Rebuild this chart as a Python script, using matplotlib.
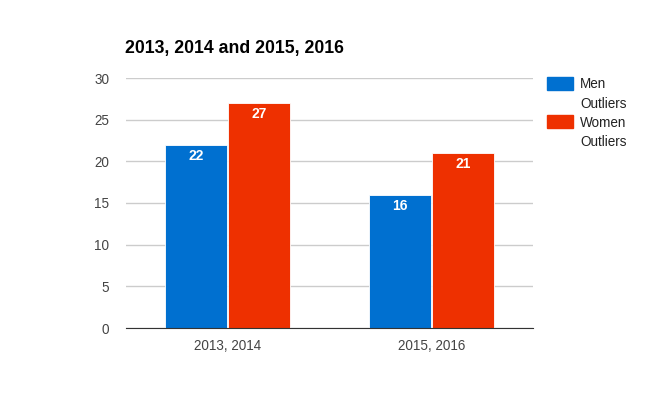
import numpy as np
import matplotlib.pyplot as plt
from matplotlib.patches import Rectangle

plt.rcParams['font.family'] = ['Liberation Sans', 'DejaVu Sans']

#DATA
categories = ['2013, 2014', '2015, 2016']
men = [22, 16]
women = [27, 21]
series_names = ['Men\nOutliers', 'Women\nOutliers']
colors = ['#0070d0', '#ee3000']

W, H = 657, 405
fig = plt.figure(figsize=(W / 100, H / 100), dpi=100)
ax = fig.add_axes([126 / W, 1 - 328 / H, 407 / W, 250 / H])

x = np.arange(len(categories))
w = 0.305
b1 = ax.bar(x - w / 2 - 0.002, men, w, color=colors[0], edgecolor='white', linewidth=0.6, zorder=3)
b2 = ax.bar(x + w / 2 + 0.002, women, w, color=colors[1], edgecolor='white', linewidth=0.6, zorder=3)

#DATA LABELS INSIDE THE BARS
for bars in (b1, b2):
    for r in bars:
        ax.annotate(str(int(r.get_height())), (r.get_x() + r.get_width() / 2, r.get_height()),
                    xytext=(0, -8), textcoords='offset points', ha='center', va='center',
                    color='white', fontsize=10, fontweight='bold', zorder=4)

ax.set_xlim(-0.5, 1.5)
ax.set_ylim(0, 30)
ax.set_yticks(range(0, 31, 5))
ax.set_xticks(x)
ax.set_xticklabels(categories)
ax.grid(axis='y', color='#cccccc', linewidth=1, zorder=0)
ax.tick_params(length=0, labelsize=9.75, colors='#444444')
ax.tick_params(axis='y', pad=12)
ax.tick_params(axis='x', pad=8)
for s in ['top', 'right', 'left']:
    ax.spines[s].set_visible(False)
ax.spines['bottom'].set_color('#333333')
ax.spines['bottom'].set_zorder(5)

fig.text(125 / W, 1 - 48 / H, '2013, 2014 and 2015, 2016', fontsize=12.7, fontweight='bold',
         va='center', ha='left', color='black')

#LEGEND DRAWN BY HAND (PATCH + TWO LINE LABEL)
for i, (name, c) in enumerate(zip(series_names, colors)):
    top = 77 + i * 38
    fig.patches.append(Rectangle((547 / W, 1 - (top + 13) / H), 26 / W, 13 / H,
                                 transform=fig.transFigure, color=c))
    fig.text(580 / W, 1 - (top + i) / H, name, fontsize=9.75, va='top', ha='left',
             color='#222222', linespacing=1.5)

fig.savefig('out.png', dpi=100)
